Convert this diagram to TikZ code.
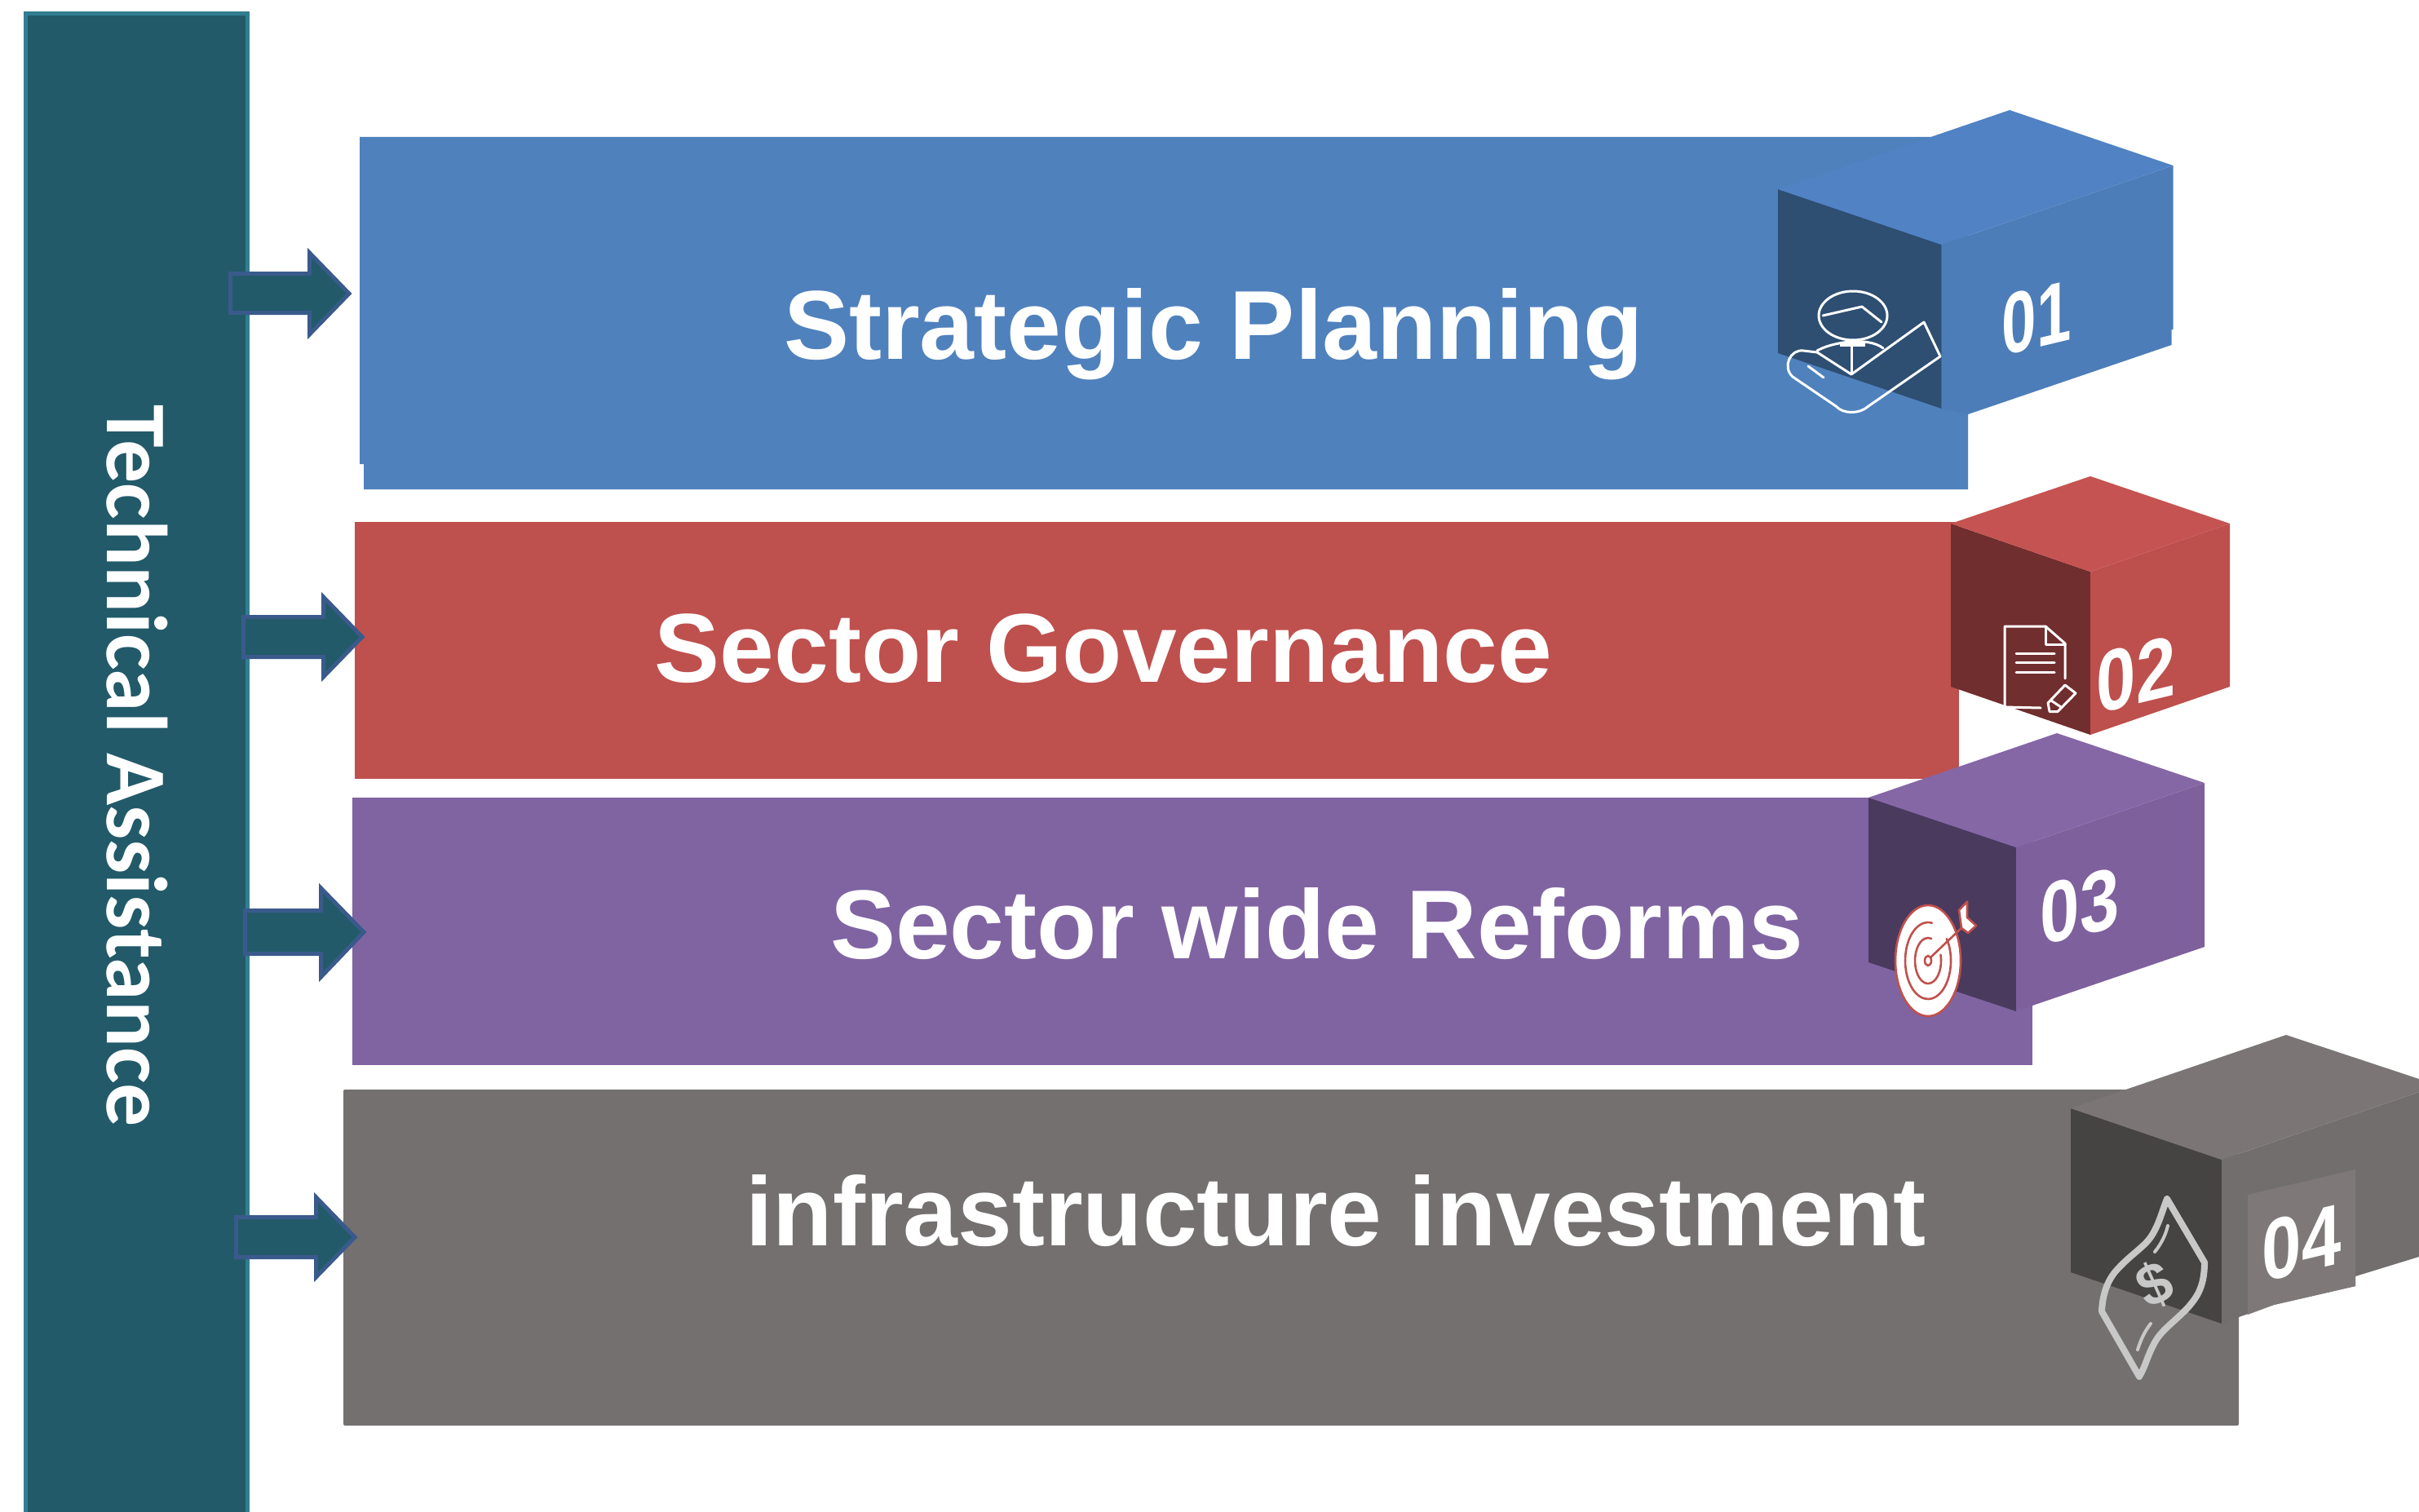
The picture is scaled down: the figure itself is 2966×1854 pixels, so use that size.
\documentclass[tikz,border=0pt]{standalone}
\usepackage{fontspec}
\setmainfont{Liberation Sans}
\newfontfamily\calib{Carlito}
\definecolor{side}{HTML}{225A69}
\definecolor{sideedge}{HTML}{327D92}
\definecolor{arrowedge}{HTML}{3A5A8C}
\definecolor{bluemain}{HTML}{4F81BD}\definecolor{bluetop}{HTML}{5082C4}\definecolor{blueright}{HTML}{4C7DB8}\definecolor{blueleft}{HTML}{2E4E72}
\definecolor{redmain}{HTML}{BE504E}\definecolor{redtop}{HTML}{C55351}\definecolor{redright}{HTML}{BD4F4D}\definecolor{redleft}{HTML}{702E2E}
\definecolor{purmain}{HTML}{8064A2}\definecolor{purtop}{HTML}{8567A6}\definecolor{purright}{HTML}{7E609C}\definecolor{purleft}{HTML}{4A3A5E}
\definecolor{graymain}{HTML}{747070}\definecolor{graytop}{HTML}{7B7675}\definecolor{grayright}{HTML}{716E6D}\definecolor{graylabel}{HTML}{7E7978}\definecolor{grayleft}{HTML}{464442}
\definecolor{iconred}{HTML}{C0504D}
\definecolor{icongray}{HTML}{C8C8C8}
\tikzset{
  blockarrow/.style={fill=side,draw=arrowedge,line width=5pt,miter limit=10},
  title/.style={anchor=base,text=white,font=\fontsize{120}{120}\selectfont\bfseries,inner sep=0pt},
  digit/.style={text=white,font=\fontsize{106}{106}\selectfont\bfseries,inner sep=0pt,yslant=.24,transform shape},
  iconline/.style={draw=white,line width=3pt,line cap=round,line join=round},
  redline/.style={draw=iconred,line width=2.6pt,line cap=round,line join=round},
  grayline/.style={draw=icongray,line width=8pt,line cap=round,line join=round},
}
\begin{document}
\begin{tikzpicture}[x=1pt,y=-1pt]
\useasboundingbox (0,0) rectangle (2966,1854);
\clip (0,0) rectangle (2966,1854);
\fill[white] (0,0) rectangle (2966,1854);
% sidebar
\draw[fill=side,draw=sideedge,line width=5pt] (31.5,16.5) rectangle (303.5,1880);
\node[rotate=-90,anchor=base west,text=white,inner sep=0pt,font=\calib\fontsize{106}{106}\selectfont\bfseries] (sidetext) at (131,496) {Technical Assistance};
% bars
\fill[bluemain] (441,168) -- (2413,168) -- (2413,600) -- (446,600) -- (446,569) -- (441,569) -- cycle;
\fill[redmain] (435,640) rectangle (2402,955);
\fill[purmain] (432,978) rectangle (2492,1306);
\fill[graymain,rounded corners=2pt] (421,1336) rectangle (2745,1748);
% arrows
\draw[blockarrow] (282.5,335.5) -- (379.5,335.5) -- (379.5,310) -- (428,360) -- (379.5,410) -- (379.5,383.5) -- (282.5,383.5) -- cycle;
\draw[blockarrow] (298.5,756.5) -- (396.5,756.5) -- (396.5,732) -- (444,781) -- (396.5,830) -- (396.5,805.5) -- (298.5,805.5) -- cycle;
\draw[blockarrow] (300.5,1116.5) -- (393.5,1116.5) -- (393.5,1089) -- (446,1143) -- (393.5,1198) -- (393.5,1169.5) -- (300.5,1169.5) -- cycle;
\draw[blockarrow] (289.5,1492.5) -- (387.5,1492.5) -- (387.5,1468) -- (435,1517) -- (387.5,1566) -- (387.5,1541.5) -- (289.5,1541.5) -- cycle;
% cube 1
\fill[blueleft] (2180,232) -- (2380.5,300) -- (2380.5,501) -- (2180,433) -- cycle;
\fill[blueright] (2380.5,300) -- (2664.5,203) -- (2664.5,404) -- (2662.5,404) -- (2662.5,423) -- (2413,508) -- (2380.5,501) -- cycle;
\fill[bluetop] (2180,232) -- (2464,135) -- (2664.5,203) -- (2380.5,300) -- cycle;
% cube 2
\fill[redleft] (2392,642) -- (2563,701) -- (2563,901) -- (2392,842) -- cycle;
\fill[redright] (2563,701) -- (2734,642) -- (2734,842) -- (2563,901) -- cycle;
\fill[redtop] (2392,642) -- (2563,584) -- (2734,642) -- (2563,701) -- cycle;
% cube 3
\fill[purleft] (2291,978) -- (2472,1039) -- (2472,1240) -- (2291,1180) -- cycle;
\fill[purright] (2472,1039) -- (2703,960) -- (2703,1161) -- (2492,1233) -- (2472,1240) -- cycle;
\fill[purtop] (2291,978) -- (2522,899) -- (2703,960) -- (2472,1039) -- cycle;
% cube 4
\fill[grayleft] (2539,1359) -- (2724,1422) -- (2724,1623) -- (2539,1560) -- cycle;
\fill[grayright] (2724,1422) -- (2966,1339) -- (2966,1541) -- (2888,1565) -- (2888,1577) -- (2788,1600) -- (2745,1615) -- (2724,1623) -- cycle;
\fill[graytop] (2539,1359) -- (2803,1269) -- (2966,1323) -- (2966,1339) -- (2724,1422) -- cycle;
\fill[graylabel] (2756,1465) -- (2888,1434) -- (2888,1577) -- (2788,1600) -- (2756,1612) -- cycle;
% titles
\node[title] (t1) at (1488,440) {Strategic Planning};
\node[title] (t2) at (1353,836) {Sector Governance};
\node[title] (t3) at (1615,1175) {Sector wide Reforms};
\node[title] (t4) at (1638,1527) {infrastructure investment};
% digits
\node[digit,xscale=.72] (n1) at (2497,390) {01};
\node[digit,xscale=.82] (n2) at (2619,827) {02};
\node[digit,xscale=.82] (n3) at (2550,1111) {03};
\node[digit,xscale=.82] (n4) at (2822,1524) {04};
% icon 1
\draw[iconline] (2272,387) ellipse [x radius=42,y radius=30];
\draw[iconline] (2235,387) -- (2283,376) -- (2307,395);
\draw[iconline] (2228,430) .. controls (2245,420) and (2290,412) .. (2309,427);
\draw[iconline,line width=5pt,line cap=butt] (2256,422) -- (2287,422);
\draw[iconline] (2270,422) -- (2270,457);
\draw[iconline] (2228,432) -- (2270,459) -- (2359,395) -- (2379,437) -- (2291,498) .. controls (2280,508) and (2260,508) .. (2251,498) -- (2198,462) .. controls (2185,450) and (2195,428) .. (2211,430) -- (2228,432);
\draw[iconline] (2217,449) -- (2236,463);
% icon 2
\draw[iconline] (2532,832) -- (2532,789) -- (2508,768) -- (2458,768) -- (2458,867) -- (2502,868);
\draw[iconline] (2508,768) -- (2508,790) -- (2532,790);
\draw[iconline] (2472,801.5) -- (2519,801.5);
\draw[iconline] (2472,812) -- (2519,812);
\draw[iconline] (2472,824) -- (2519,824);
\draw[iconline] (2511,862) -- (2532,840) -- (2545,850) -- (2523,872.5) -- (2513,872.5) -- cycle;
\draw[iconline] (2515,859) -- (2527,867);
% icon 3
\draw[redline,fill=white] (2364,1178) ellipse [x radius=40,y radius=68];
\draw[redline] (2364,1178) ++(-35:28 and 47) arc [start angle=-35,end angle=280,x radius=28,y radius=47];
\draw[redline] (2364,1178) ++(-15:16 and 28) arc [start angle=-15,end angle=285,x radius=16,y radius=28];
\draw[redline] (2364,1178) ellipse [x radius=4,y radius=6];
\draw[redline] (2367,1174) -- (2407,1136);
\draw[redline,fill=white] (2402,1116) -- (2412,1105.5) -- (2412,1125) -- (2423,1135) -- (2413,1144) -- (2405,1138) -- cycle;
% icon 4
\draw[grayline] (2657,1470) -- (2703,1548) .. controls (2703,1580) and (2692,1592) .. (2683,1603) .. controls (2665,1622) and (2648,1632) .. (2640,1650) .. controls (2632,1665) and (2632,1672) .. (2623,1688) -- (2577,1608) .. controls (2578,1585) and (2585,1570) .. (2593,1560) .. controls (2610,1540) and (2628,1530) .. (2637,1517) .. controls (2647,1502) and (2650,1488) .. (2657,1470) -- cycle;
\draw[grayline,line width=4pt] (2658,1503) .. controls (2655,1515) and (2650,1525) .. (2642,1535);
\draw[grayline,line width=4pt] (2637,1623) .. controls (2630,1632) and (2625,1642) .. (2621,1655);
\node[text=icongray,inner sep=0pt,rotate=24,font=\fontsize{72}{72}\selectfont\bfseries] (dollar) at (2642,1575) {\$};
\end{tikzpicture}
\end{document}
